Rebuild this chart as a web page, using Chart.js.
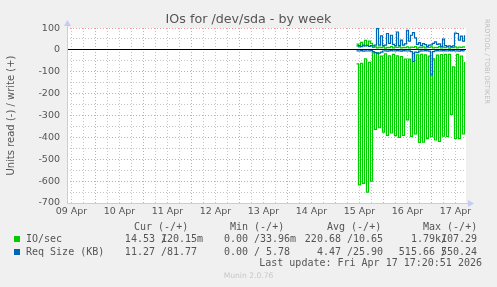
<!DOCTYPE html>
<html>
<head>
<meta charset="utf-8">
<script src="https://cdn.jsdelivr.net/npm/chart.js@4/dist/chart.umd.min.js"></script>
<style>
  html, body { margin: 0; padding: 0; background: #f0f0f0; }
  #wrap { position: relative; width: 497px; height: 287px; overflow: hidden; background: #f0f0f0; }
  #c { position: absolute; left: 0; top: 0; }
  .t { position: absolute; white-space: pre; font-family: "DejaVu Sans Mono", monospace; font-size: 10px; line-height: 12px; color: #555; }
  .sw { position: absolute; width: 6px; height: 6px; }
  #rrd { position: absolute; left: 483px; top: 19px; writing-mode: vertical-rl; font-family: "DejaVu Sans", sans-serif; font-size: 6.6px; color: #bdbdbd; white-space: pre; }
  #munin { position: absolute; left: 0; width: 497px; top: 271px; text-align: center; font-family: "DejaVu Sans", sans-serif; font-size: 7.6px; color: #c8c8c8; }
</style>
</head>
<body>
<div id="wrap">
  <canvas id="c" width="497" height="287"></canvas>
  <div id="rrd">RRDTOOL / TOBI OETIKER</div>
  <div id="munin">Munin 2.0.76</div>
</div>
<script>
// ---------- data ----------
const chartTitle = 'IOs for /dev/sda - by week';
const yAxisTitle = 'Units read (-) / write (+)';
const dayLabels = ['09 Apr', '10 Apr', '11 Apr', '12 Apr', '13 Apr', '14 Apr', '15 Apr', '16 Apr', '17 Apr'];
// time axis in hours since 09 Apr 00:00
const windowEndHour = 209.25;      // Fri Apr 17 ~17:15
const windowHours = 199.5;
const firstSampleHour = 154.5;     // first sample, 15 Apr 10:30
const sampleStepHours = 1;

// IO/sec read (drawn negative) and write
const ioRead = [-64, -617, -62, -610, -41, -650, -57, -600, -14, -363,
                -12, -356, -28, -376, -18, -391, -27, -380, -20, -392,
                -27, -400, -31, -391, -42, -320, -42, -395, -16, -384,
                -23, -423, -20, -422, -23, -406, -28, -397, -41, -412,
                -24, -418, -21, -394, -20, -396, -20, -295, -78, -405,
                -20, -406, -28, -384, -55];
const ioWrite = [26, 14, 34, 18, 44, 22, 40, 30, 12, 14,
                 9, 13, 10, 14, 8, 12, 10, 15, 9, 13,
                 11, 14, 9, 12, 10, 14, 9, 13, 11, 15,
                 8, 12, 10, 14, 9, 13, 11, 14, 9, 12,
                 10, 15, 9, 13, 10, 14, 8, 12, 10, 14,
                 9, 13, 11, 14, 10];
// Req Size (KB) read (drawn negative) and write
const sizeRead = [-4, -5, -3, -6, -4, -5, -4, -3, -8, -12,
                  -17, -15, -10, -5, -4, -6, -4, -3, -5, -4,
                  -3, -4, -6, -3, -4, -5, -4, -8, -53, -10,
                  -12, -6, -4, -5, -3, -4, -6, -114, -8, -4,
                  -3, -5, -4, -3, -4, -5, -3, -4, -3, -5,
                  -4, -6, -3, -4, -5];
const sizeWrite = [18, 20, 15, 22, 18, 20, 16, 20, 18, 22,
                   97, 22, 64, 20, 22, 75, 30, 67, 25, 20,
                   82, 20, 45, 22, 28, 90, 40, 67, 79, 55,
                   25, 33, 20, 29, 24, 16, 22, 23, 30, 37,
                   25, 28, 16, 49, 20, 16, 18, 15, 18, 77,
                   75, 45, 63, 40, 67];
const yMin = -700, yMax = 100, yMinorStep = 50, yMajorStep = 100;

// legend table
const statHeaders = ['Cur (-/+)', 'Min (-/+)', 'Avg (-/+)', 'Max (-/+)'];
const seriesNames = ['IO/sec', 'Req Size (KB)'];
const seriesColors = ['#00cc00', '#0066b3'];
const ioStats   = [['14.53', '120.15m'], ['0.00', '33.96m'], ['220.68', '10.65'], ['1.79k', '107.29']];
const sizeStats = [['11.27', '81.77'],   ['0.00', '5.78'],   ['4.47', '25.90'],   ['515.66', '550.24']];
const lastUpdate = 'Last update: Fri Apr 17 17:20:51 2026';

// ---------- chart ----------
const xMin = windowEndHour - windowHours, xMax = windowEndHour;
const toPoints = arr => arr.map((v, i) => ({ x: firstSampleHour + i * sampleStepHours, y: v }));
const gridHours = [];
for (let h = Math.ceil(xMin / 6) * 6; h <= xMax; h += 6) gridHours.push(h);
const yTickVals = [];
for (let v = yMin; v <= yMax; v += yMinorStep) yTickVals.push(v);

const axisColor = 'rgb(196,204,245)';
const majorColor = 'rgba(225,70,70,0.55)';
const minorColor = 'rgba(140,140,140,0.5)';
const tickFont = { family: 'DejaVu Sans', size: 9.5 };

const muninPlugin = {
  id: 'munin',
  beforeDraw(chart) {
    const { ctx, chartArea: a } = chart;
    ctx.save();
    ctx.fillStyle = '#ffffff';
    ctx.fillRect(a.left, a.top, a.right - a.left, a.bottom - a.top);
    ctx.restore();
  },
  afterDraw(chart) {
    const { ctx, chartArea: a } = chart;
    ctx.save();
    ctx.fillStyle = axisColor;
    ctx.strokeStyle = axisColor;
    ctx.lineWidth = 1;
    ctx.beginPath();
    ctx.moveTo(a.left + 0.5, a.top - 4); ctx.lineTo(a.left + 0.5, a.bottom); ctx.stroke();
    ctx.beginPath();
    ctx.moveTo(a.left - 3, a.top - 2); ctx.lineTo(a.left + 4, a.top - 2); ctx.lineTo(a.left + 0.5, a.top - 8); ctx.closePath(); ctx.fill();
    ctx.beginPath();
    ctx.moveTo(a.left, a.bottom + 0.5); ctx.lineTo(a.right + 3, a.bottom + 0.5); ctx.stroke();
    ctx.beginPath();
    ctx.moveTo(a.right + 2, a.bottom - 3); ctx.lineTo(a.right + 2, a.bottom + 4); ctx.lineTo(a.right + 8, a.bottom + 0.5); ctx.closePath(); ctx.fill();
    ctx.restore();
  }
};

const lineDs = (label, arr, color, width) => ({
  label, data: toPoints(arr), borderColor: color, backgroundColor: color,
  borderWidth: width, pointRadius: 0, fill: false, stepped: true, tension: 0
});

new Chart(document.getElementById('c'), {
  type: 'line',
  data: {
    datasets: [
      lineDs('Req Size (KB) write', sizeWrite, seriesColors[1], 1.2),
      lineDs('Req Size (KB) read', sizeRead, seriesColors[1], 1.2),
      lineDs('IO/sec write', ioWrite, seriesColors[0], 1.2),
      lineDs('IO/sec read', ioRead, seriesColors[0], 1.2)
    ]
  },
  plugins: [muninPlugin],
  options: {
    responsive: false,
    animation: false,
    events: [],
    layout: { padding: 0 },
    plugins: {
      legend: { display: false },
      tooltip: { enabled: false },
      title: {
        display: true, text: chartTitle, color: '#555',
        font: { family: 'DejaVu Sans', size: 12.7, weight: 'normal' },
        padding: { top: 11.6, bottom: 1.2 }
      }
    },
    scales: {
      x: {
        type: 'linear', min: xMin, max: xMax,
        afterFit(s) { s.height = 84; },
        afterBuildTicks(s) { s.ticks = gridHours.map(v => ({ value: v })); },
        ticks: {
          autoSkip: false, maxRotation: 0, minRotation: 0, padding: 3, color: '#555', font: tickFont,
          callback: v => (v % 24 === 12 ? dayLabels[(v - 12) / 24] : '')
        },
        grid: {
          drawTicks: false, lineWidth: 1,
          color: c => (c.tick && c.tick.value % 24 === 0 ? majorColor : minorColor)
        },
        border: { display: false, dash: [1, 2] }
      },
      y: {
        type: 'linear', min: yMin, max: yMax, position: 'left',
        afterFit(s) { s.width = 67; },
        afterBuildTicks(s) { s.ticks = yTickVals.map(v => ({ value: v })); },
        ticks: {
          autoSkip: false, padding: 7, color: '#555', font: tickFont,
          callback: v => (v % yMajorStep === 0 ? String(v) : '')
        },
        grid: {
          drawTicks: false, lineWidth: 1,
          color: c => (c.tick && c.tick.value === 0 ? 'rgba(0,0,0,0)' :
                      (c.tick && c.tick.value % yMajorStep === 0 ? majorColor : minorColor))
        },
        border: { display: false, dash: [1, 2] },
        title: {
          display: true, text: yAxisTitle, color: '#555',
          font: { family: 'DejaVu Sans', size: 10 }, padding: { top: 5, bottom: 0 }
        }
      },
      yZero: {
        type: 'linear', min: yMin, max: yMax, position: 'left',
        afterFit(s) { s.width = 0; },
        afterBuildTicks(s) { s.ticks = [{ value: 0 }]; },
        ticks: { display: false },
        grid: { drawTicks: false, color: '#000000', lineWidth: 1 },
        border: { display: false }
      },
      gutter: {
        type: 'linear', min: yMin, max: yMax, position: 'right',
        afterFit(s) { s.width = 31; },
        ticks: { display: false },
        grid: { display: false, drawTicks: false },
        border: { display: false }
      }
    }
  }
});

// ---------- legend (real text) ----------
const wrap = document.getElementById('wrap');
const mctx = document.createElement('canvas').getContext('2d');
mctx.font = '10px "DejaVu Sans Mono"';
const cw = mctx.measureText('0').width;
function put(text, left, top, extra) {
  const d = document.createElement('div');
  d.className = 't';
  d.textContent = text;
  d.style.left = left + 'px';
  d.style.top = top + 'px';
  if (extra) Object.assign(d.style, extra);
  wrap.appendChild(d);
  return d;
}
function field(s) {
  const m = s.match(/^(.*?)([a-zA-Z]?)$/);
  return m[1].padStart(6, ' ') + (m[2] || ' ');
}
const slashX = [161, 254, 347, 441];
const headerX = [134, 230, 327, 423];
const rowTop = [233.3, 245.7];
statHeaders.forEach((h, k) => put(h, headerX[k], 221.3));
[ioStats, sizeStats].forEach((stats, r) => {
  const sw = document.createElement('div');
  sw.className = 'sw';
  sw.style.background = seriesColors[r];
  sw.style.left = '14px';
  sw.style.top = (rowTop[r] + 3) + 'px';
  wrap.appendChild(sw);
  put(seriesNames[r], 26, rowTop[r]);
  stats.forEach((pair, k) => {
    put(field(pair[0]), slashX[k] - 7 * cw, rowTop[r]);
    put('/', slashX[k], rowTop[r]);
    put(field(pair[1]), slashX[k], rowTop[r]);
  });
});
put(lastUpdate, 0, 257, { left: 'auto', right: '15px' });
</script>
</body>
</html>
